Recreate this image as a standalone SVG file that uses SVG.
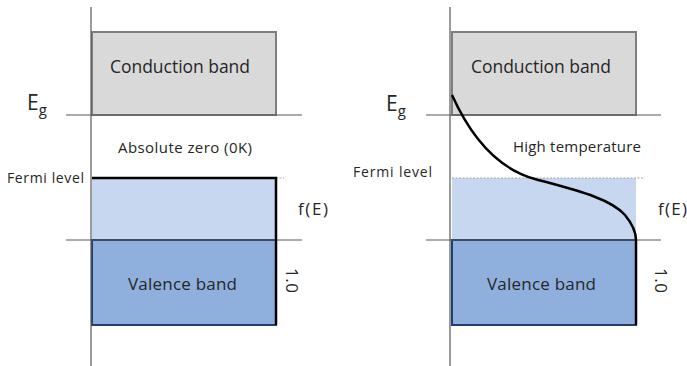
<svg xmlns="http://www.w3.org/2000/svg" width="687" height="366" viewBox="0 0 687 366">
<style>
.t{font-family:"Open Sans","Noto Sans","Liberation Sans",sans-serif;fill:#262626}
.cb{fill:#d9d9d9;stroke:#7f7f7f;stroke-width:2}
.lb{fill:#c6d7ef;stroke:none}
.vb{fill:#8fb0dc;stroke:#1f3f73;stroke-width:2}
.ax{stroke:#595959;stroke-width:1.2;fill:none}
.fl{stroke:#000;stroke-width:2.5;fill:none}
.dot{stroke:#a6a6a6;stroke-width:1;stroke-dasharray:2 1.5;fill:none}
</style>
<rect width="687" height="366" fill="#fff"/>
<g id="left-panel">
  <g id="conduction-left">
    <rect class="cb" x="92" y="32" width="184" height="83"/>
    <text class="t" x="110" y="73" font-size="17.5" textLength="140">Conduction band</text>
  </g>
  <g id="fermi-fill-left">
    <rect class="lb" x="92" y="178" width="184" height="62"/>
  </g>
  <g id="valence-left">
    <rect class="vb" x="92" y="240" width="184" height="85"/>
    <text class="t" x="128" y="290" font-size="17" textLength="109">Valence band</text>
  </g>
  <line class="dot" x1="276" y1="178" x2="284" y2="178"/>
  <g id="axes-left">
    <line class="ax" x1="91" y1="7" x2="91" y2="366"/>
    <line class="ax" x1="66" y1="115" x2="302" y2="115"/>
    <line class="ax" x1="66" y1="240" x2="302" y2="240"/>
  </g>
  <path class="fl" d="M92,178 H276 V325"/>
  <text class="t" x="27" y="110" font-size="21">E<tspan font-size="15" dy="5">g</tspan></text>
  <text class="t" x="118" y="153" font-size="15" textLength="134">Absolute zero (0K)</text>
  <text class="t" x="7" y="183" font-size="14" textLength="77">Fermi level</text>
  <text class="t" x="298" y="215" font-size="17" textLength="30">f(E)</text>
  <text class="t" font-size="17" textLength="25" transform="translate(286,268) rotate(90)">1.0</text>
</g>
<g id="right-panel">
  <g id="conduction-right">
    <rect class="cb" x="452" y="32" width="184" height="83"/>
    <text class="t" x="471" y="73" font-size="17.5" textLength="140">Conduction band</text>
  </g>
  <g id="fermi-fill-right">
    <rect class="lb" x="452" y="178" width="184" height="62"/>
  </g>
  <g id="valence-right">
    <rect class="vb" x="452" y="240" width="184" height="85"/>
    <text class="t" x="487" y="290" font-size="17" textLength="109">Valence band</text>
  </g>
  <line class="dot" x1="452" y1="178" x2="645" y2="178"/>
  <g id="axes-right">
    <line class="ax" x1="450" y1="7" x2="450" y2="366"/>
    <line class="ax" x1="426" y1="115" x2="661" y2="115"/>
    <line class="ax" x1="426" y1="240" x2="661" y2="240"/>
  </g>
  <path class="fl" d="M452,95 C470,135 495,168 535,179 C575,190 610,198 625,215 C634,226 636,234 636,240 V325"/>
  <text class="t" x="386" y="111" font-size="21">E<tspan font-size="15" dy="5">g</tspan></text>
  <text class="t" x="513" y="152" font-size="15" textLength="128">High temperature</text>
  <text class="t" x="353" y="177" font-size="14" textLength="79">Fermi level</text>
  <text class="t" x="658" y="215" font-size="17" textLength="29">f(E)</text>
  <text class="t" font-size="17" textLength="25" transform="translate(655,268) rotate(90)">1.0</text>
</g>
</svg>
